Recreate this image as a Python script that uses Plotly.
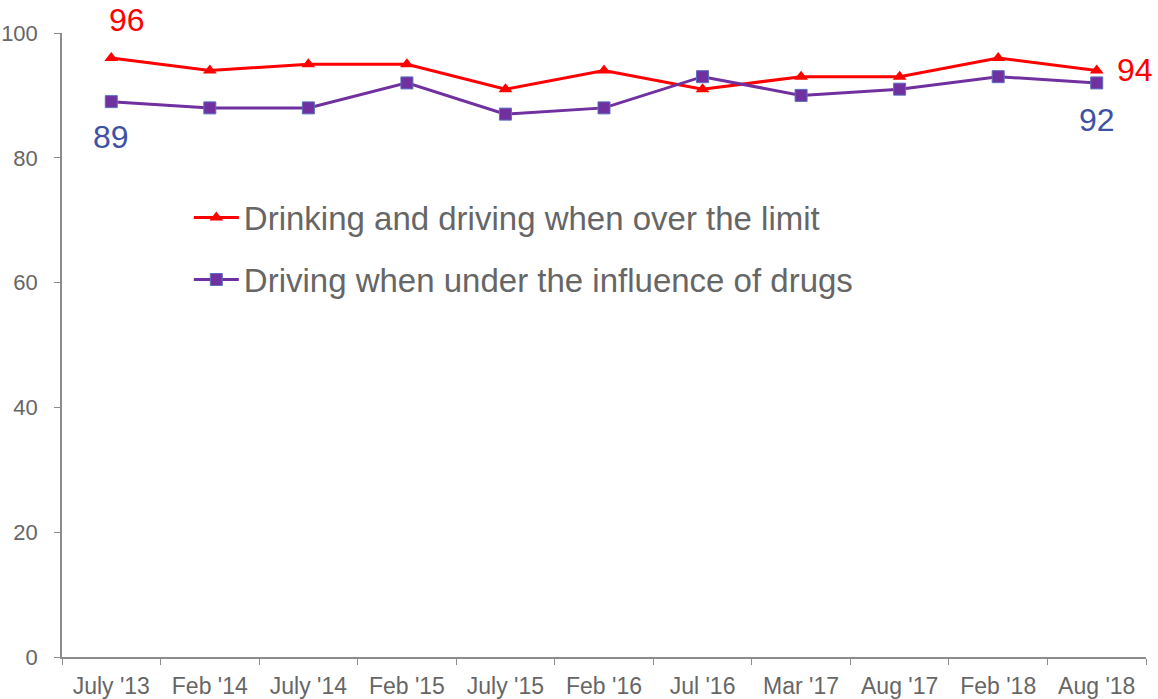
import plotly.graph_objects as go

categories = ["July '13", "Feb '14", "July '14", "Feb '15", "July '15", "Feb '16",
              "Jul '16", "Mar '17", "Aug '17", "Feb '18", "Aug '18"]
drink = [96, 94, 95, 95, 91, 94, 91, 93, 93, 96, 94]
drugs = [89, 88, 88, 92, 87, 88, 93, 90, 91, 93, 92]
names = ["Drinking and driving when over the limit", "Driving when under the influence of drugs"]

RED = "#FF0000"
PURPLE = "#7030A0"
BLUE = "#3F51A5"
GRAY = "#666666"
AX = "#8C8C8C"
FONT = "Liberation Sans, Arial, sans-serif"

fig = go.Figure()
fig.add_trace(go.Scatter(x=categories, y=drink, name=names[0], mode="lines+markers",
                         line=dict(color=RED, width=3),
                         marker=dict(symbol="triangle-up", size=12, color=RED),
                         legendgroup="a"))
fig.add_trace(go.Scatter(x=categories, y=drugs, name=names[1], mode="lines+markers",
                         line=dict(color=PURPLE, width=3),
                         marker=dict(symbol="square", size=12, color=PURPLE,
                                     line=dict(color="#5B6FBF", width=1)),
                         legendgroup="b"))

anns = [
    dict(x=categories[0], y=drink[0], text=str(drink[0]), xshift=16, yshift=38, color=RED),
    dict(x=categories[-1], y=drink[-1], text=str(drink[-1]), xshift=38, yshift=0, color=RED),
    dict(x=categories[0], y=drugs[0], text=str(drugs[0]), xshift=0, yshift=-35, color=BLUE),
    dict(x=categories[-1], y=drugs[-1], text=str(drugs[-1]), xshift=0, yshift=-37, color=BLUE),
]
for a in anns:
    fig.add_annotation(x=a["x"], y=a["y"], text=a["text"], showarrow=False,
                       xshift=a["xshift"], yshift=a["yshift"],
                       font=dict(family=FONT, size=32, color=a["color"]))

fig.update_layout(
    width=1158, height=699,
    margin=dict(l=62, r=12, t=33, b=42),
    plot_bgcolor="white", paper_bgcolor="white",
    font=dict(family=FONT, color=GRAY),
    showlegend=True,
    legend=dict(x=0.117, y=0.749, xanchor="left", yanchor="top",
                font=dict(family=FONT, size=33, color=GRAY),
                bgcolor="rgba(0,0,0,0)", tracegroupgap=16, itemwidth=45),
    xaxis=dict(type="category", range=[-0.5, 10.5], showgrid=False, showline=True,
               linecolor=AX, linewidth=1.5, automargin=False,
               ticks="outside", tickson="boundaries", ticklen=6, tickcolor=AX,
               ticklabelstandoff=8,
               tickfont=dict(family=FONT, size=23, color=GRAY), zeroline=False),
    yaxis=dict(range=[0, 100], tickvals=[0, 20, 40, 60, 80, 100], showgrid=False,
               showline=True, linecolor=AX, linewidth=1.5, ticks="outside", ticklen=6,
               tickcolor=AX, ticklabelstandoff=12, automargin=False,
               tickfont=dict(family=FONT, size=22, color=GRAY), zeroline=False),
)

fig.write_html("out.html")
